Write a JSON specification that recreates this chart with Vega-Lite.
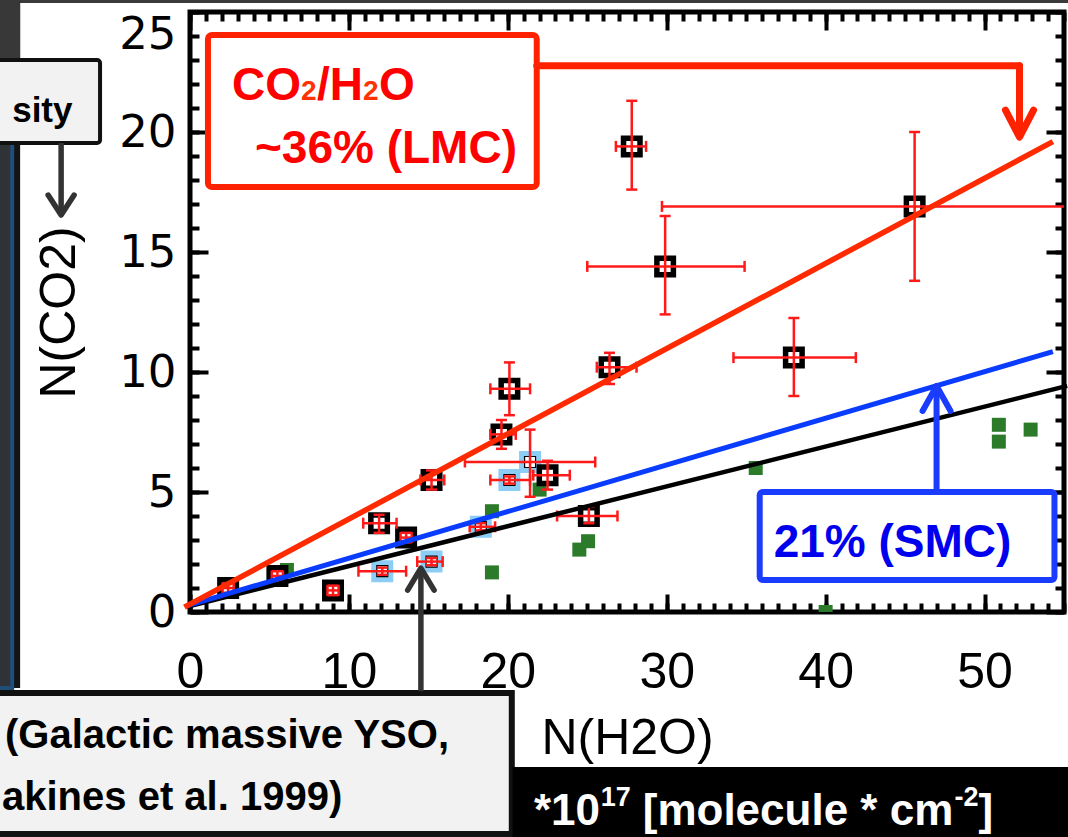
{
  "$schema": "https://vega.github.io/schema/vega-lite/v6.json",
  "width": 874,
  "height": 600,
  "autosize": {"type": "none"},
  "padding": {"left": 190, "top": 12, "right": 4, "bottom": 225},
  "background": "white",
  "config": {"view": {"stroke": "black", "strokeWidth": 5}},
  "datasets": {
    "yso": [
      {"galaxy": "LMC", "h2o": 2.4, "co2": 1.0, "h2o_lo": 2.05, "h2o_hi": 2.75, "co2_lo": 0.8, "co2_hi": 1.2},
      {"galaxy": "LMC", "h2o": 5.5, "co2": 1.5, "h2o_lo": 5.15, "h2o_hi": 5.85, "co2_lo": 1.3, "co2_hi": 1.7},
      {"galaxy": "LMC", "h2o": 9.0, "co2": 0.9, "h2o_lo": 8.65, "h2o_hi": 9.35, "co2_lo": 0.7, "co2_hi": 1.1},
      {"galaxy": "LMC", "h2o": 11.9, "co2": 3.7, "h2o_lo": 10.9, "h2o_hi": 13.0, "co2_lo": 3.3, "co2_hi": 4.05},
      {"galaxy": "LMC", "h2o": 13.6, "co2": 3.1, "h2o_lo": 13.25, "h2o_hi": 13.95, "co2_lo": 2.9, "co2_hi": 3.3},
      {"galaxy": "LMC", "h2o": 15.2, "co2": 5.5, "h2o_lo": 14.5, "h2o_hi": 16.0, "co2_lo": 5.1, "co2_hi": 5.9},
      {"galaxy": "LMC", "h2o": 19.6, "co2": 7.4, "h2o_lo": 18.9, "h2o_hi": 20.5, "co2_lo": 6.8, "co2_hi": 8.0},
      {"galaxy": "LMC", "h2o": 20.1, "co2": 9.3, "h2o_lo": 18.9, "h2o_hi": 21.4, "co2_lo": 8.2, "co2_hi": 10.4},
      {"galaxy": "LMC", "h2o": 22.5, "co2": 5.7, "h2o_lo": 21.6, "h2o_hi": 23.9, "co2_lo": 5.1, "co2_hi": 6.3},
      {"galaxy": "LMC", "h2o": 25.1, "co2": 4.0, "h2o_lo": 23.1, "h2o_hi": 26.9, "co2_lo": 3.7, "co2_hi": 4.4},
      {"galaxy": "LMC", "h2o": 26.4, "co2": 10.2, "h2o_lo": 25.6, "h2o_hi": 28.1, "co2_lo": 9.5, "co2_hi": 10.8},
      {"galaxy": "LMC", "h2o": 27.8, "co2": 19.4, "h2o_lo": 26.8, "h2o_hi": 28.7, "co2_lo": 17.6, "co2_hi": 21.3},
      {"galaxy": "LMC", "h2o": 29.9, "co2": 14.4, "h2o_lo": 25.0, "h2o_hi": 34.9, "co2_lo": 12.4, "co2_hi": 16.5},
      {"galaxy": "LMC", "h2o": 38.0, "co2": 10.6, "h2o_lo": 34.2, "h2o_hi": 41.9, "co2_lo": 9.0, "co2_hi": 12.25},
      {"galaxy": "LMC", "h2o": 45.6, "co2": 16.9, "h2o_lo": 29.7, "h2o_hi": 61.5, "co2_lo": 13.8, "co2_hi": 20.0},
      {"galaxy": "SMC", "h2o": 12.1, "co2": 1.7, "h2o_lo": 10.6, "h2o_hi": 13.6, "co2_lo": 1.55, "co2_hi": 1.85},
      {"galaxy": "SMC", "h2o": 15.2, "co2": 2.1, "h2o_lo": 14.3, "h2o_hi": 15.9, "co2_lo": 1.95, "co2_hi": 2.25},
      {"galaxy": "SMC", "h2o": 18.3, "co2": 3.55, "h2o_lo": 17.6, "h2o_hi": 19.2, "co2_lo": 3.4, "co2_hi": 3.7},
      {"galaxy": "SMC", "h2o": 20.1, "co2": 5.5, "h2o_lo": 18.9, "h2o_hi": 21.4, "co2_lo": 5.35, "co2_hi": 5.65},
      {"galaxy": "SMC", "h2o": 21.4, "co2": 6.25, "h2o_lo": 17.3, "h2o_hi": 25.5, "co2_lo": 4.8, "co2_hi": 7.6}
    ],
    "galactic": [
      {"h2o": 6.1, "co2": 1.75}, {"h2o": 12.0, "co2": 1.6}, {"h2o": 19.0, "co2": 4.2},
      {"h2o": 19.0, "co2": 1.65}, {"h2o": 22.0, "co2": 5.1}, {"h2o": 24.5, "co2": 2.6},
      {"h2o": 25.05, "co2": 2.95}, {"h2o": 35.6, "co2": 6.0}, {"h2o": 40.0, "co2": 0.0},
      {"h2o": 50.9, "co2": 7.8}, {"h2o": 50.9, "co2": 7.1}, {"h2o": 52.9, "co2": 7.6}
    ],
    "fits": [
      {"sample": "Galactic", "h2o": -0.2, "co2": 0.22}, {"sample": "Galactic", "h2o": 55.2, "co2": 9.42},
      {"sample": "SMC", "h2o": -0.1, "co2": 0.28}, {"sample": "SMC", "h2o": 54.3, "co2": 10.85},
      {"sample": "LMC", "h2o": -0.35, "co2": 0.2}, {"sample": "LMC", "h2o": 54.3, "co2": 19.6}
    ]
  },
  "resolve": {"axis": {"x": "independent", "y": "independent"}},
  "layer": [
    {
      "data": {"name": "galactic"},
      "mark": {"type": "point", "opacity": 0},
      "encoding": {
        "x": {"field": "h2o", "type": "quantitative", "scale": {"domain": [0, 55], "nice": false, "zero": false},
          "axis": {"orient": "bottom", "values": [0, 10, 20, 30, 40, 50], "ticks": false, "domain": false, "grid": false,
            "labelFont": "Liberation Sans", "labelFontSize": 50, "labelColor": "#000000", "labelPadding": 35,
            "labelFlush": false, "labelOverlap": false,
            "title": "N(H2O)", "titleFont": "Liberation Sans", "titleFontSize": 50, "titleFontWeight": "normal",
            "titleColor": "#000000", "titlePadding": 16}},
        "y": {"field": "co2", "type": "quantitative", "scale": {"domain": [0, 25], "nice": false, "zero": false},
          "axis": {"orient": "left", "values": [0, 5, 10, 15, 20, 25], "ticks": false, "domain": false, "grid": false,
            "labelFont": "DejaVu Sans", "labelFontSize": 45, "labelColor": "#000000", "labelPadding": 14,
            "labelFlush": false, "labelOverlap": false,
            "labelBaseline": {"condition": {"test": "datum.value == 25", "value": "top"}, "value": "middle"},
            "title": "N(CO2)", "titleFont": "Liberation Sans", "titleFontSize": 50, "titleFontWeight": "normal",
            "titleColor": "#000000", "titlePadding": 34}}
      }
    },
    {
      "data": {"name": "galactic"},
      "mark": {"type": "point", "opacity": 0},
      "encoding": {
        "x": {"field": "h2o", "type": "quantitative",
          "axis": {"orient": "bottom", "values": [0, 10, 20, 30, 40, 50], "labels": false, "domain": false, "grid": false,
            "tickSize": -18, "tickWidth": 4, "tickColor": "#000000", "title": null}},
        "y": {"field": "co2", "type": "quantitative",
          "axis": {"orient": "left", "values": [0, 5, 10, 15, 20, 25], "labels": false, "domain": false, "grid": false,
            "tickSize": -18, "tickWidth": 4, "tickColor": "#000000", "title": null}}
      }
    },
    {
      "data": {"name": "galactic"},
      "mark": {"type": "point", "opacity": 0},
      "encoding": {
        "x": {"field": "h2o", "type": "quantitative",
          "axis": {"orient": "bottom", "values": [0,1,2,3,4,5,6,7,8,9,10,11,12,13,14,15,16,17,18,19,20,21,22,23,24,25,26,27,28,29,30,31,32,33,34,35,36,37,38,39,40,41,42,43,44,45,46,47,48,49,50,51,52,53,54,55],
            "labels": false, "domain": false, "grid": false, "tickSize": -9, "tickWidth": 4, "tickColor": "#000000", "title": null}},
        "y": {"field": "co2", "type": "quantitative",
          "axis": {"orient": "left", "values": [0,1,2,3,4,5,6,7,8,9,10,11,12,13,14,15,16,17,18,19,20,21,22,23,24,25],
            "labels": false, "domain": false, "grid": false, "tickSize": -9, "tickWidth": 4, "tickColor": "#000000", "title": null}}
      }
    },
    {
      "data": {"name": "galactic"},
      "mark": {"type": "point", "opacity": 0},
      "encoding": {
        "x": {"field": "h2o", "type": "quantitative",
          "axis": {"orient": "top", "values": [0, 10, 20, 30, 40, 50], "labels": false, "domain": false, "grid": false,
            "tickSize": -18, "tickWidth": 4, "tickColor": "#000000", "title": null}},
        "y": {"field": "co2", "type": "quantitative",
          "axis": {"orient": "right", "values": [0, 5, 10, 15, 20, 25], "labels": false, "domain": false, "grid": false,
            "tickSize": -18, "tickWidth": 4, "tickColor": "#000000", "title": null}}
      }
    },
    {
      "data": {"name": "galactic"},
      "mark": {"type": "point", "opacity": 0},
      "encoding": {
        "x": {"field": "h2o", "type": "quantitative",
          "axis": {"orient": "top", "values": [0,1,2,3,4,5,6,7,8,9,10,11,12,13,14,15,16,17,18,19,20,21,22,23,24,25,26,27,28,29,30,31,32,33,34,35,36,37,38,39,40,41,42,43,44,45,46,47,48,49,50,51,52,53,54,55],
            "labels": false, "domain": false, "grid": false, "tickSize": -9, "tickWidth": 4, "tickColor": "#000000", "title": null}},
        "y": {"field": "co2", "type": "quantitative",
          "axis": {"orient": "right", "values": [0,1,2,3,4,5,6,7,8,9,10,11,12,13,14,15,16,17,18,19,20,21,22,23,24,25],
            "labels": false, "domain": false, "grid": false, "tickSize": -9, "tickWidth": 4, "tickColor": "#000000", "title": null}}
      }
    },
    {
      "data": {"name": "galactic"},
      "mark": {"type": "square", "size": 196, "filled": true, "color": "#2b7b2b", "opacity": 1, "clip": true},
      "encoding": {
        "x": {"field": "h2o", "type": "quantitative", "axis": null},
        "y": {"field": "co2", "type": "quantitative", "axis": null}
      }
    },
    {
      "data": {"name": "yso"},
      "transform": [{"filter": "datum.galaxy == 'SMC'"}],
      "mark": {"type": "square", "size": 256, "fill": "white", "stroke": "#8ccdf5", "strokeWidth": 6, "opacity": 1, "clip": true},
      "encoding": {
        "x": {"field": "h2o", "type": "quantitative", "axis": null},
        "y": {"field": "co2", "type": "quantitative", "axis": null}
      }
    },
    {
      "data": {"name": "yso"},
      "transform": [{"filter": "datum.galaxy == 'SMC'"}],
      "mark": {"type": "square", "size": 121, "filled": false, "stroke": "#000000", "strokeWidth": 1.2, "opacity": 1, "clip": true},
      "encoding": {
        "x": {"field": "h2o", "type": "quantitative", "axis": null},
        "y": {"field": "co2", "type": "quantitative", "axis": null}
      }
    },
    {
      "data": {"name": "yso"},
      "transform": [{"filter": "datum.galaxy == 'LMC'"}],
      "mark": {"type": "square", "size": 272, "fill": "white", "stroke": "#000000", "strokeWidth": 5.5, "opacity": 1, "clip": true},
      "encoding": {
        "x": {"field": "h2o", "type": "quantitative", "axis": null},
        "y": {"field": "co2", "type": "quantitative", "axis": null}
      }
    },
    {
      "data": {"name": "yso"},
      "mark": {"type": "rule", "color": "#ff1a1a", "strokeWidth": 2.5, "clip": true},
      "encoding": {
        "x": {"field": "h2o_lo", "type": "quantitative", "axis": null},
        "x2": {"field": "h2o_hi"},
        "y": {"field": "co2", "type": "quantitative", "axis": null}
      }
    },
    {
      "data": {"name": "yso"},
      "mark": {"type": "rule", "color": "#ff1a1a", "strokeWidth": 2.5, "clip": true},
      "encoding": {
        "x": {"field": "h2o", "type": "quantitative", "axis": null},
        "y": {"field": "co2_lo", "type": "quantitative", "axis": null},
        "y2": {"field": "co2_hi"}
      }
    },
    {
      "data": {"name": "yso"},
      "transform": [{"fold": ["h2o_lo", "h2o_hi"], "as": ["end", "h2o_end"]}],
      "mark": {"type": "tick", "orient": "vertical", "size": 11, "thickness": 2.5, "color": "#ff1a1a", "opacity": 1, "clip": true},
      "encoding": {
        "x": {"field": "h2o_end", "type": "quantitative", "axis": null},
        "y": {"field": "co2", "type": "quantitative", "axis": null}
      }
    },
    {
      "data": {"name": "yso"},
      "transform": [{"fold": ["co2_lo", "co2_hi"], "as": ["end", "co2_end"]}],
      "mark": {"type": "tick", "orient": "horizontal", "size": 11, "thickness": 2.5, "color": "#ff1a1a", "opacity": 1, "clip": true},
      "encoding": {
        "x": {"field": "h2o", "type": "quantitative", "axis": null},
        "y": {"field": "co2_end", "type": "quantitative", "axis": null}
      }
    },
    {
      "data": {"name": "fits"},
      "mark": {"type": "line", "strokeCap": "butt"},
      "encoding": {
        "x": {"field": "h2o", "type": "quantitative", "axis": null},
        "y": {"field": "co2", "type": "quantitative", "axis": null},
        "detail": {"field": "sample"},
        "color": {"field": "sample", "type": "nominal", "legend": null,
          "scale": {"domain": ["Galactic", "SMC", "LMC"], "range": ["#000000", "#0a3cff", "#ff2a00"]}},
        "strokeWidth": {"field": "sample", "type": "nominal", "legend": null,
          "scale": {"domain": ["Galactic", "SMC", "LMC"], "range": [4.5, 5.5, 6]}}
      }
    },
    {
      "data": {"values": [{}]},
      "layer": [
        {
          "mark": {"type": "rect", "fill": "#3a3a3a"},
          "encoding": {"x": {"datum": -12.5, "type": "quantitative", "axis": null}, "x2": {"datum": 56},
            "y": {"datum": 25.6, "type": "quantitative", "axis": null}, "y2": {"datum": 25.375}}
        },
        {
          "mark": {"type": "rect", "fill": "#141414"},
          "encoding": {"x": {"datum": -12.5, "type": "quantitative", "axis": null}, "x2": {"datum": -10.69},
            "y": {"datum": 25.6, "type": "quantitative", "axis": null}, "y2": {"datum": -3.17}}
        },
        {
          "mark": {"type": "rect", "fill": "#383838"},
          "encoding": {"x": {"datum": -12.5, "type": "quantitative", "axis": null}, "x2": {"datum": -10.69},
            "y": {"datum": 25.6, "type": "quantitative", "axis": null}, "y2": {"datum": 23.0}}
        },
        {
          "mark": {"type": "rect", "fill": "#2f3237", "stroke": "#1f4e79", "strokeWidth": 4},
          "encoding": {"x": {"datum": -12.5, "type": "quantitative", "axis": null}, "x2": {"datum": -11.19},
            "y": {"datum": 22.25, "type": "quantitative", "axis": null}, "y2": {"datum": -3.17}}
        },
        {
          "mark": {"type": "rect", "fill": "#f2f2f2", "stroke": "#111111", "strokeWidth": 4, "cornerRadius": 3},
          "encoding": {"x": {"datum": -12.5, "type": "quantitative", "axis": null}, "x2": {"datum": -5.66},
            "y": {"datum": 23.0, "type": "quantitative", "axis": null}, "y2": {"datum": 19.54}}
        },
        {
          "mark": {"type": "text", "text": "sity", "font": "Liberation Sans",
            "fontSize": 35, "fontWeight": "bold", "align": "left", "baseline": "alphabetic", "color": "#000000"},
          "encoding": {"x": {"datum": -11.19, "type": "quantitative", "axis": null}, "y": {"datum": 20.42, "type": "quantitative", "axis": null}}
        },
        {
          "mark": {"type": "rule", "color": "#333333", "strokeWidth": 5.5},
          "encoding": {"x": {"datum": -8.11, "type": "quantitative", "axis": null},
            "y": {"datum": 19.54, "type": "quantitative", "axis": null}, "y2": {"datum": 16.7}}
        },
        {
          "mark": {"type": "point", "shape": "M -0.65 -1 L 0 0 L 0.65 -1", "filled": false, "stroke": "#333333", "strokeWidth": 5.5,
            "strokeCap": "round", "strokeJoin": "round", "size": 1600, "opacity": 1},
          "encoding": {"x": {"datum": -8.11, "type": "quantitative", "axis": null}, "y": {"datum": 16.54, "type": "quantitative", "axis": null}}
        },
        {
          "mark": {"type": "rect", "fill": "#f2f2f2", "stroke": "#111111", "strokeWidth": 6},
          "encoding": {"x": {"datum": -12.5, "type": "quantitative", "axis": null}, "x2": {"datum": 20.25},
            "y": {"datum": -3.375, "type": "quantitative", "axis": null}, "y2": {"datum": -9.25}}
        },
        {
          "mark": {"type": "text", "text": "(Galactic massive YSO,", "font": "Liberation Sans",
            "fontSize": 40, "fontWeight": "bold", "align": "left", "baseline": "alphabetic", "color": "#000000"},
          "encoding": {"x": {"datum": -11.64, "type": "quantitative", "axis": null}, "y": {"datum": -5.67, "type": "quantitative", "axis": null}}
        },
        {
          "mark": {"type": "text", "text": "akines et al. 1999)", "font": "Liberation Sans",
            "fontSize": 40, "fontWeight": "bold", "align": "left", "baseline": "alphabetic", "color": "#000000"},
          "encoding": {"x": {"datum": -11.83, "type": "quantitative", "axis": null}, "y": {"datum": -8.25, "type": "quantitative", "axis": null}}
        },
        {
          "mark": {"type": "rect", "fill": "#000000"},
          "encoding": {"x": {"datum": 20.3, "type": "quantitative", "axis": null}, "x2": {"datum": 56},
            "y": {"datum": -6.46, "type": "quantitative", "axis": null}, "y2": {"datum": -9.6}}
        },
        {
          "mark": {"type": "text", "text": "*10", "font": "Liberation Sans",
            "fontSize": 44, "fontWeight": "bold", "align": "left", "baseline": "alphabetic", "color": "#ffffff"},
          "encoding": {"x": {"datum": 21.64, "type": "quantitative", "axis": null}, "y": {"datum": -8.875, "type": "quantitative", "axis": null}}
        },
        {
          "mark": {"type": "text", "text": "17", "font": "Liberation Sans",
            "fontSize": 27, "fontWeight": "bold", "align": "left", "baseline": "alphabetic", "color": "#ffffff"},
          "encoding": {"x": {"datum": 25.85, "type": "quantitative", "axis": null}, "y": {"datum": -8.08, "type": "quantitative", "axis": null}}
        },
        {
          "mark": {"type": "text", "text": "[molecule * cm", "font": "Liberation Sans",
            "fontSize": 44, "fontWeight": "bold", "align": "left", "baseline": "alphabetic", "color": "#ffffff"},
          "encoding": {"x": {"datum": 28.49, "type": "quantitative", "axis": null}, "y": {"datum": -8.875, "type": "quantitative", "axis": null}}
        },
        {
          "mark": {"type": "text", "text": "-2", "font": "Liberation Sans",
            "fontSize": 27, "fontWeight": "bold", "align": "left", "baseline": "alphabetic", "color": "#ffffff"},
          "encoding": {"x": {"datum": 48.11, "type": "quantitative", "axis": null}, "y": {"datum": -8.08, "type": "quantitative", "axis": null}}
        },
        {
          "mark": {"type": "text", "text": "]", "font": "Liberation Sans",
            "fontSize": 44, "fontWeight": "bold", "align": "left", "baseline": "alphabetic", "color": "#ffffff"},
          "encoding": {"x": {"datum": 49.62, "type": "quantitative", "axis": null}, "y": {"datum": -8.875, "type": "quantitative", "axis": null}}
        },
        {
          "mark": {"type": "rule", "color": "#333333", "strokeWidth": 5.5},
          "encoding": {"x": {"datum": 14.53, "type": "quantitative", "axis": null},
            "y": {"datum": -3.3, "type": "quantitative", "axis": null}, "y2": {"datum": 1.75}}
        },
        {
          "mark": {"type": "point", "shape": "M -0.6 1 L 0 0 L 0.6 1", "filled": false, "stroke": "#333333", "strokeWidth": 5.5,
            "strokeCap": "round", "strokeJoin": "round", "size": 1936, "opacity": 1},
          "encoding": {"x": {"datum": 14.53, "type": "quantitative", "axis": null}, "y": {"datum": 1.83, "type": "quantitative", "axis": null}}
        },
        {
          "mark": {"type": "rect", "fill": "#ffffff", "stroke": "#ff2200", "strokeWidth": 6, "cornerRadius": 4},
          "encoding": {"x": {"datum": 1.13, "type": "quantitative", "axis": null}, "x2": {"datum": 21.82},
            "y": {"datum": 24.04, "type": "quantitative", "axis": null}, "y2": {"datum": 17.71}}
        },
        {
          "mark": {"type": "text", "text": "CO", "font": "Liberation Sans",
            "fontSize": 46, "fontWeight": "bold", "align": "left", "baseline": "alphabetic", "color": "#ff0000"},
          "encoding": {"x": {"datum": 2.64, "type": "quantitative", "axis": null}, "y": {"datum": 21.33, "type": "quantitative", "axis": null}}
        },
        {
          "mark": {"type": "text", "text": "2", "font": "Liberation Sans",
            "fontSize": 28, "fontWeight": "bold", "align": "left", "baseline": "alphabetic", "color": "#ff3300"},
          "encoding": {"x": {"datum": 6.98, "type": "quantitative", "axis": null}, "y": {"datum": 21.33, "type": "quantitative", "axis": null}}
        },
        {
          "mark": {"type": "text", "text": "/H", "font": "Liberation Sans",
            "fontSize": 46, "fontWeight": "bold", "align": "left", "baseline": "alphabetic", "color": "#ff0000"},
          "encoding": {"x": {"datum": 7.99, "type": "quantitative", "axis": null}, "y": {"datum": 21.33, "type": "quantitative", "axis": null}}
        },
        {
          "mark": {"type": "text", "text": "2", "font": "Liberation Sans",
            "fontSize": 28, "fontWeight": "bold", "align": "left", "baseline": "alphabetic", "color": "#ff3300"},
          "encoding": {"x": {"datum": 10.88, "type": "quantitative", "axis": null}, "y": {"datum": 21.33, "type": "quantitative", "axis": null}}
        },
        {
          "mark": {"type": "text", "text": "O", "font": "Liberation Sans",
            "fontSize": 46, "fontWeight": "bold", "align": "left", "baseline": "alphabetic", "color": "#ff0000"},
          "encoding": {"x": {"datum": 11.89, "type": "quantitative", "axis": null}, "y": {"datum": 21.33, "type": "quantitative", "axis": null}}
        },
        {
          "mark": {"type": "text", "text": "~36% (LMC)", "font": "Liberation Sans",
            "fontSize": 46, "fontWeight": "bold", "align": "left", "baseline": "alphabetic", "color": "#ff0000"},
          "encoding": {"x": {"datum": 4.09, "type": "quantitative", "axis": null}, "y": {"datum": 18.71, "type": "quantitative", "axis": null}}
        },
        {
          "mark": {"type": "rule", "color": "#ff2200", "strokeWidth": 7, "strokeCap": "round"},
          "encoding": {"x": {"datum": 21.82, "type": "quantitative", "axis": null}, "x2": {"datum": 52.2},
            "y": {"datum": 22.76, "type": "quantitative", "axis": null}}
        },
        {
          "mark": {"type": "rule", "color": "#ff2200", "strokeWidth": 7, "strokeCap": "round"},
          "encoding": {"x": {"datum": 52.2, "type": "quantitative", "axis": null},
            "y": {"datum": 22.76, "type": "quantitative", "axis": null}, "y2": {"datum": 19.95}}
        },
        {
          "mark": {"type": "point", "shape": "M -0.52 -1 L 0 0 L 0.52 -1", "filled": false, "stroke": "#ff2200", "strokeWidth": 7,
            "strokeCap": "round", "strokeJoin": "round", "size": 2916, "opacity": 1},
          "encoding": {"x": {"datum": 52.2, "type": "quantitative", "axis": null}, "y": {"datum": 19.79, "type": "quantitative", "axis": null}}
        },
        {
          "mark": {"type": "rect", "fill": "#ffffff", "stroke": "#1a3cff", "strokeWidth": 6, "cornerRadius": 3},
          "encoding": {"x": {"datum": 35.85, "type": "quantitative", "axis": null}, "x2": {"datum": 54.4},
            "y": {"datum": 5.0, "type": "quantitative", "axis": null}, "y2": {"datum": 1.33}}
        },
        {
          "mark": {"type": "text", "text": "21% (SMC)", "font": "Liberation Sans",
            "fontSize": 46, "fontWeight": "bold", "align": "left", "baseline": "alphabetic", "color": "#0000ee"},
          "encoding": {"x": {"datum": 36.73, "type": "quantitative", "axis": null}, "y": {"datum": 2.29, "type": "quantitative", "axis": null}}
        },
        {
          "mark": {"type": "rule", "color": "#1a3cff", "strokeWidth": 6},
          "encoding": {"x": {"datum": 46.98, "type": "quantitative", "axis": null},
            "y": {"datum": 5.0, "type": "quantitative", "axis": null}, "y2": {"datum": 9.3}}
        },
        {
          "mark": {"type": "point", "shape": "M -0.56 1 L 0 0 L 0.56 1", "filled": false, "stroke": "#1a3cff", "strokeWidth": 6,
            "strokeCap": "round", "strokeJoin": "round", "size": 2500, "opacity": 1},
          "encoding": {"x": {"datum": 46.98, "type": "quantitative", "axis": null}, "y": {"datum": 9.42, "type": "quantitative", "axis": null}}
        }
      ]
    }
  ]
}
